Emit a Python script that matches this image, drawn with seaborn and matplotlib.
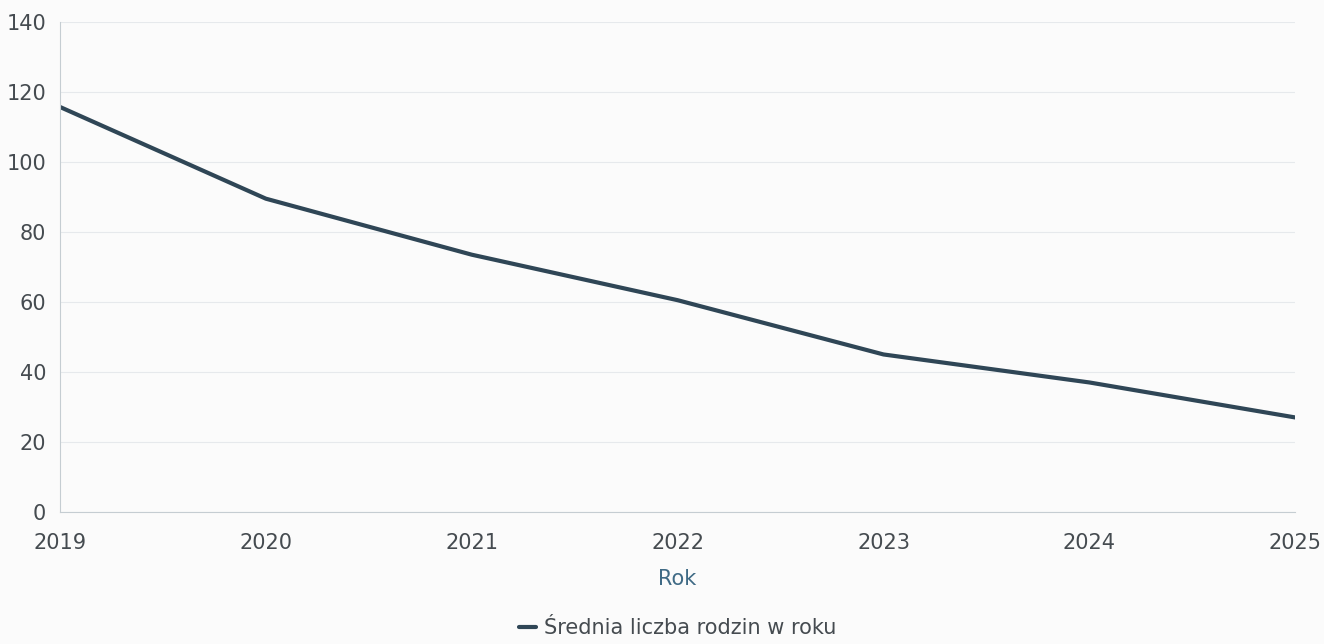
import matplotlib
matplotlib.use("Agg")
import matplotlib.pyplot as plt
import seaborn as sns
import pandas as pd

years = [2019, 2020, 2021, 2022, 2023, 2024, 2025]
values = [115.7, 89.5, 73.5, 60.5, 45.0, 37.0, 27.0]
series_name = "Średnia liczba rodzin w roku"
x_label = "Rok"
y_ticks = [0, 20, 40, 60, 80, 100, 120, 140]

df = pd.DataFrame({"Rok": years, "value": values, "series": series_name})

sns.set_theme(style="white")
plt.rcParams['font.family'] = ['DejaVu Sans']

fig = plt.figure(figsize=(13.24, 6.44), dpi=100)
fig.patch.set_facecolor("#fbfbfb")
ax = fig.add_axes([0.0453, 0.205, 0.933, 0.761])
ax.set_facecolor("#fbfbfb")

sns.lineplot(data=df, x="Rok", y="value", hue="series", palette=["#2f4656"],
             linewidth=3, ax=ax, legend=True)

ax.set_xlim(2019, 2025)
ax.set_ylim(0, 140)
ax.set_yticks(y_ticks)
ax.set_xticks(years)
ax.yaxis.grid(True, color="#e6e9ec", linewidth=0.8)
ax.xaxis.grid(False)
for s in ["top", "right"]:
    ax.spines[s].set_visible(False)
ax.spines["left"].set_color("#c5cdd2")
ax.spines["bottom"].set_color("#c5cdd2")
ax.spines["left"].set_linewidth(0.8)
ax.spines["bottom"].set_linewidth(0.8)
ax.tick_params(axis="both", length=0, colors="#454b50", labelsize=15)
ax.tick_params(axis="x", pad=15)
ax.tick_params(axis="y", pad=10)
ax.set_xlabel(x_label, color="#3f6a85", fontsize=15, labelpad=12)
ax.set_ylabel("")

handles, labels = ax.get_legend_handles_labels()
ax.legend(handles, labels, loc="upper center", bbox_to_anchor=(0.5, -0.178),
          frameon=False, fontsize=15, handlelength=0.8, handletextpad=0.4,
          labelcolor="#454b50")

fig.savefig("out.png", dpi=100, facecolor=fig.get_facecolor())
